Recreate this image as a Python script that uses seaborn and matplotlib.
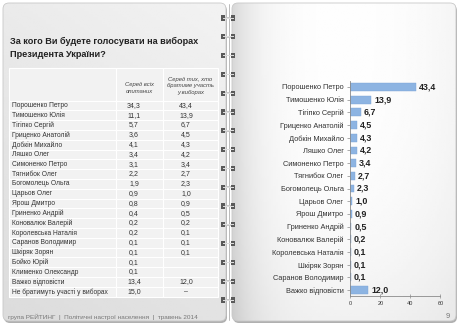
import numpy as np
import pandas as pd
import matplotlib
matplotlib.use("Agg")
import matplotlib.pyplot as plt
import seaborn as sns
from matplotlib.patches import FancyBboxPatch, Rectangle

sns.set_theme(style="white")
plt.rcParams['font.family'] = ['Liberation Sans', 'DejaVu Sans']

# ---------------- data ----------------
title_text = "За кого Ви будете голосувати на виборах\nПрезидента України?"
col_headers = ["Серед всіх\nопитаних", "Серед тих, хто\nбратиме участь\nу виборах"]
table_names = ["Порошенко Петро", "Тимошенко Юлія", "Тігіпко Сергій", "Гриценко Анатолій",
               "Добкін Михайло", "Ляшко Олег", "Симоненко Петро", "Тягнибок Олег",
               "Богомолець Ольга", "Царьов Олег", "Ярош Дмитро", "Гриненко Андрій",
               "Коновалюк Валерій", "Королевська Наталія", "Саранов Володимир", "Шкіряк Зорян",
               "Бойко Юрій", "Клименко Олександр", "Важко відповісти",
               "Не братимуть участі у виборах"]
all_respondents = ["34,3", "11,1", "5,7", "3,6", "4,1", "3,4", "3,1", "2,2", "1,9", "0,9",
                   "0,8", "0,4", "0,2", "0,2", "0,1", "0,1", "0,1", "0,1", "13,4", "15,0"]
voters_col = ["43,4", "13,9", "6,7", "4,5", "4,3", "4,2", "3,4", "2,7", "2,3", "1,0",
              "0,9", "0,5", "0,2", "0,1", "0,1", "0,1", "", "", "12,0", "–"]

chart_names = ["Порошенко Петро", "Тимошенко Юлія", "Тігіпко Сергій", "Гриценко Анатолій",
               "Добкін Михайло", "Ляшко Олег", "Симоненко Петро", "Тягнибок Олег",
               "Богомолець Ольга", "Царьов Олег", "Ярош Дмитро", "Гриненко Андрій",
               "Коновалюк Валерій", "Королевська Наталія", "Шкіряк Зорян",
               "Саранов Володимир", "Важко відповісти"]
chart_values = [43.4, 13.9, 6.7, 4.5, 4.3, 4.2, 3.4, 2.7, 2.3, 1.0, 0.9, 0.5, 0.2, 0.1,
                0.1, 0.1, 12.0]
x_ticks = [0, 20, 40, 60]
footer_text = "група РЕЙТИНГ  |  Політичні настрої населення  |  травень 2014"
page_number = "9"

# ---------------- figure / background ----------------
W, H = 460, 328
fig = plt.figure(figsize=(4.6, 3.28), dpi=100)
fig.patch.set_facecolor("white")
bg = fig.add_axes([0, 0, 1, 1])
bg.set_xlim(0, W)
bg.set_ylim(H, 0)
bg.axis("off")

def page(x0, x1, y0, y1, grad):
    sh = FancyBboxPatch((x0 + 1, y0 + 2), x1 - x0, y1 - y0,
                        boxstyle="round,pad=0,rounding_size=6",
                        fc="#b0b0b0", ec="none", zorder=0)
    bg.add_patch(sh)
    p = FancyBboxPatch((x0, y0), x1 - x0, y1 - y0,
                       boxstyle="round,pad=0,rounding_size=6",
                       fc="none", ec="#c8c8c8", lw=0.6, zorder=1)
    bg.add_patch(p)
    im = bg.imshow(grad, extent=(x0, x1, y1, y0), cmap="gray", vmin=0, vmax=1,
                   aspect="auto", zorder=0.5, interpolation="bilinear")
    im.set_clip_path(p)

yy, xx = np.mgrid[0:1:100j, 0:1:100j]
left_grad = 0.95 - 0.06 * yy - 0.03 * (1 - xx)
page(3, 226, 3, 321, left_grad)
right_grad = 1.0 - 0.15 * np.exp(-xx / 0.12) - 0.05 * yy ** 3 - 0.04 * xx ** 4
page(232, 456, 3, 321, right_grad)

bg.plot([229, 229], [4, 320], color="#b0b0b0", lw=0.6, zorder=2)

for k in range(16):
    y = 18 + k * 18.8
    bg.add_patch(Rectangle((224, y - 0.8), 10, 1.6, fc="#c8c8c8", ec="none", zorder=3))
    bg.add_patch(Rectangle((221.5, y - 2.6), 4, 5.2, fc="#5a5a5a", ec="none", zorder=4))
    bg.add_patch(Rectangle((231.5, y - 2.6), 4, 5.2, fc="#5a5a5a", ec="none", zorder=4))
    bg.add_patch(Rectangle((223, y - 0.5), 11, 1.0, fc="#dddddd", ec="none", zorder=5))

bg.text(10, 37, title_text, fontsize=6.6, fontweight="bold", color="#222222",
        va="top", ha="left", linespacing=1.5, zorder=6)

# table
cols = [9, 116, 163, 218]
hdr_top, hdr_bot = 68, 100.5
row_h = 9.8
cell_fc = "#f2f2f2"
for c in range(3):
    bg.add_patch(Rectangle((cols[c], hdr_top), cols[c + 1] - cols[c], hdr_bot - hdr_top,
                           fc=cell_fc, ec="white", lw=0.8, zorder=6))
bg.text((cols[1] + cols[2]) / 2, 88, col_headers[0], fontsize=4.2, style="italic",
        color="#444444", ha="center", va="center", linespacing=1.3, zorder=7)
bg.text((cols[2] + cols[3]) / 2, 86, col_headers[1], fontsize=4.2, style="italic",
        color="#444444", ha="center", va="center", linespacing=1.3, zorder=7)
for i, name in enumerate(table_names):
    top = hdr_bot + i * row_h
    for c in range(3):
        bg.add_patch(Rectangle((cols[c], top), cols[c + 1] - cols[c], row_h,
                               fc=cell_fc, ec="white", lw=0.8, zorder=6))
    cy = top + row_h / 2
    bg.text(12, cy, name, fontsize=4.8, color="#333333", ha="left", va="center", zorder=7)
    bg.text(134, cy, all_respondents[i], fontsize=5.0, color="#333333", ha="center",
            va="center", zorder=7)
    bg.text(186, cy, voters_col[i], fontsize=5.0, color="#333333", ha="center",
            va="center", zorder=7)

bg.text(8, 317, footer_text, fontsize=4.6, color="#777777", ha="left", va="center", zorder=7)
bg.text(448, 316, page_number, fontsize=5.5, color="#777777", ha="center", va="center", zorder=7)

# ---------------- bar chart ----------------
x0, x1 = 350.5, 440.5
n = len(chart_values)
step = (290 - 87) / (n - 1)
ytop = 87 - step / 2
ybot = 290 + step / 2
ax = fig.add_axes([x0 / W, (H - ybot) / H, (x1 - x0) / W, (ybot - ytop) / H])
df = pd.DataFrame({"name": chart_names, "value": chart_values})
sns.barplot(data=df, x="value", y="name", orient="h", color="#8db4e2", width=0.62,
            saturation=1, ax=ax, edgecolor="#7aa3d6", linewidth=0.3)
ax.set_facecolor("none")
ax.set_xlim(0, 60)
ax.set_xticks(x_ticks)
ax.set_xticklabels([str(t) for t in x_ticks])
ax.set_xlabel("")
ax.set_ylabel("")
for s in ["top", "right"]:
    ax.spines[s].set_visible(False)
for s in ["left", "bottom"]:
    ax.spines[s].set_color("#8a8a8a")
    ax.spines[s].set_linewidth(0.6)
ax.tick_params(axis="y", labelsize=5.3, labelcolor="#333333", length=2, width=0.5,
               color="#8a8a8a", pad=3, left=True)
ax.tick_params(axis="x", labelsize=4.0, labelcolor="#333333", length=2.5, width=0.5,
               color="#8a8a8a", pad=2, bottom=True, direction="inout")
for i, v in enumerate(chart_values):
    ax.text(v + 2.0, i, f"{v:.1f}".replace(".", ","), fontsize=6.4, fontweight="bold",
            color="#222222", va="center", ha="left")

fig.savefig("out.png", dpi=100)
